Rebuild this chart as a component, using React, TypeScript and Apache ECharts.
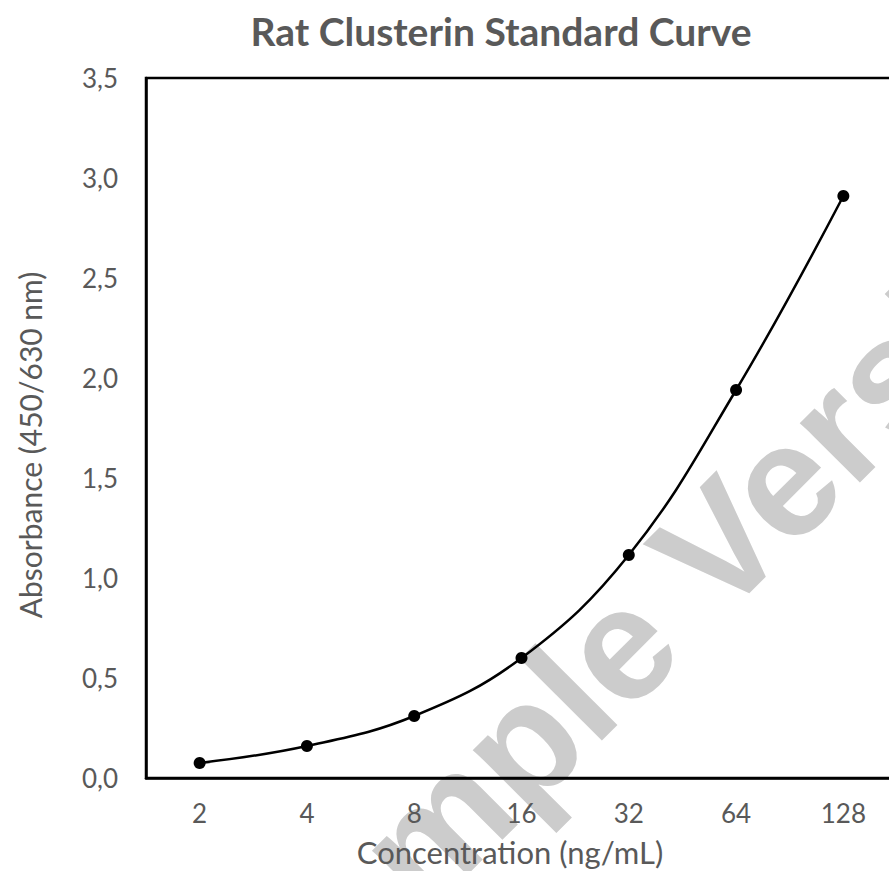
import React, { useEffect, useRef } from "react";
import * as echarts from "echarts";

const concentrations = ["2", "4", "8", "16", "32", "64", "128"];
const absorbance = [0.075, 0.16, 0.31, 0.6, 1.115, 1.94, 2.91];
const titleText = "Rat Clusterin Standard Curve";
const xName = "Concentration (ng/mL)";
const yName = "Absorbance (450/630 nm)";
const watermark = "Sample Version";

export default function App() {
  const ref = useRef<HTMLDivElement>(null);
  useEffect(() => {
    if (!ref.current) return;
    const chart = echarts.init(ref.current, undefined, { renderer: "svg" });
    const gray = "#595959";
    const font = "Lato, 'Open Sans', sans-serif";
    chart.setOption({
      animation: false,
      backgroundColor: "#ffffff",
      title: {
        text: titleText,
        left: 496,
        top: 6,
        textAlign: "center",
        textStyle: { color: gray, fontSize: 39, fontWeight: "bold", fontFamily: font },
      },
      graphic: [
        {
          type: "text",
          z: -10,
          x: 668,
          y: 596,
          rotation: Math.PI / 4,
          silent: true,
          style: {
            text: watermark,
            fill: "#cccccc",
            fontSize: 160,
            fontWeight: "bold",
            fontFamily: "'Liberation Sans', Arial, sans-serif",
            textAlign: "center",
            textVerticalAlign: "middle",
          },
        },
        {
          type: "text",
          x: 30,
          y: 445,
          rotation: Math.PI / 2,
          style: {
            text: yName,
            fill: gray,
            fontSize: 30,
            fontFamily: font,
            textAlign: "center",
            textVerticalAlign: "middle",
          },
        },
        {
          type: "text",
          x: 510,
          y: 852,
          style: {
            text: xName,
            fill: gray,
            fontSize: 31,
            fontFamily: font,
            textAlign: "center",
            textVerticalAlign: "middle",
          },
        },
      ],
      grid: {
        left: 146,
        top: 78,
        width: 751,
        height: 700,
        outerBoundsMode: "none",
        containLabel: false,
        show: true,
        borderColor: "#000000",
        borderWidth: 2.5,
        backgroundColor: "transparent",
        z: 1,
      },
      xAxis: {
        type: "category",
        data: concentrations,
        boundaryGap: true,
        axisLine: { show: true, lineStyle: { color: "#000", width: 2.5 } },
        axisTick: { show: false },
        axisLabel: { color: gray, fontSize: 26, fontFamily: font, margin: 22 },
        splitLine: { show: false },
      },
      yAxis: {
        type: "value",
        min: 0,
        max: 3.5,
        interval: 0.5,
        axisLine: { show: true, lineStyle: { color: "#000", width: 2.5 } },
        axisTick: { show: false },
        splitLine: { show: false },
        axisLabel: {
          color: gray,
          fontSize: 26,
          fontFamily: font,
          margin: 28,
          formatter: (v: number) => v.toFixed(1).replace(".", ","),
        },
      },
      series: [
        {
          type: "line",
          data: absorbance,
          smooth: 0.4,
          symbol: "circle",
          symbolSize: 12,
          itemStyle: { color: "#000000" },
          lineStyle: { color: "#000000", width: 2.5 },
          z: 5,
        },
      ],
    });
    return () => chart.dispose();
  }, []);
  return (
    <div
      ref={ref}
      style={{ position: "absolute", left: 0, top: 0, width: 889, height: 871 }}
    />
  );
}
